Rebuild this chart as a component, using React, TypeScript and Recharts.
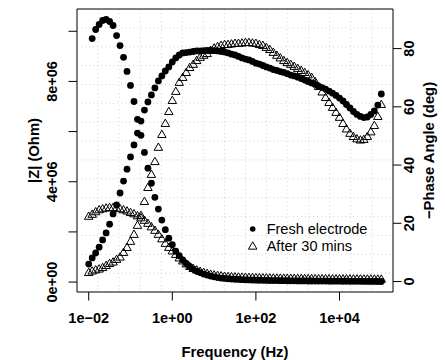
import React from "react";
import { ScatterChart, Scatter, XAxis, YAxis, CartesianGrid, Legend, ReferenceArea } from "recharts";

// frequency sweep: 12 points per decade, 10 mHz .. 100 kHz
const DECADES = [0.01, 0.1, 1, 10, 100, 1000, 10000];
const STEPS = [1, 1.212, 1.468, 1.778, 2.154, 2.61, 3.162, 3.831, 4.642, 5.623, 6.813, 8.254];
const LAST_FREQ = 100000;

// |Z| in MOhm (first low-frequency point of the fresh run is missing)
const FRESH_Z = [
  null, 9.71, 10.07, 10.27, 10.43, 10.47, 10.39, 10.23, 9.83, 9.43,
  8.96, 8.4, 7.84, 7.2, 6.49, 5.85, 5.17, 4.54, 3.94, 3.38,
  2.91, 2.47, 2.09, 1.75, 1.49, 1.23, 1.05, 0.88, 0.74, 0.62,
  0.52, 0.44, 0.38, 0.32, 0.28, 0.24, 0.208, 0.18, 0.16, 0.144,
  0.132, 0.12, 0.112, 0.104, 0.096, 0.088, 0.084, 0.08, 0.076, 0.072,
  0.069, 0.066, 0.063, 0.06, 0.058, 0.056, 0.054, 0.052, 0.05, 0.048,
  0.046, 0.045, 0.044, 0.043, 0.042, 0.041, 0.04, 0.039, 0.038, 0.037,
  0.036, 0.035, 0.034, 0.033, 0.032, 0.031, 0.03, 0.029, 0.028, 0.027,
  0.026, 0.025, 0.024, 0.023, 0.022,
];
const AFTER_Z = [
  2.6, 2.68, 2.78, 2.86, 2.9, 2.93, 2.95, 2.95, 2.93, 2.9,
  2.86, 2.81, 2.75, 2.7, 2.62, 2.54, 2.44, 2.32, 2.18, 2.04,
  1.88, 1.7, 1.52, 1.36, 1.22, 1.08, 0.94, 0.82, 0.7, 0.6,
  0.52, 0.46, 0.408, 0.36, 0.32, 0.288, 0.26, 0.24, 0.224, 0.208,
  0.196, 0.188, 0.181, 0.175, 0.17, 0.165, 0.16, 0.156, 0.152, 0.148,
  0.145, 0.142, 0.139, 0.136, 0.133, 0.131, 0.129, 0.127, 0.125, 0.123,
  0.121, 0.119, 0.117, 0.115, 0.113, 0.112, 0.111, 0.11, 0.109, 0.108,
  0.107, 0.106, 0.105, 0.104, 0.103, 0.102, 0.101, 0.1, 0.099, 0.098,
  0.097, 0.096, 0.095, 0.094, 0.093,
];

// -phase in degrees
const FRESH_PHASE = [
  6.0, 8.1, 9.8, 11.8, 14.3, 16.7, 19.7, 23.2, 26.3, 30.4,
  34.5, 38.6, 42.8, 46.9, 51.0, 55.1, 58.9, 61.7, 64.1, 66.5,
  68.9, 70.6, 72.3, 73.7, 75.4, 76.8, 77.8, 78.5, 78.65, 78.8,
  79.0, 79.2, 79.2, 79.3, 79.4, 79.4, 79.3, 79.2, 79.0, 78.8,
  78.5, 78.1, 77.8, 77.3, 76.8, 76.4, 76.1, 75.6, 75.0, 74.7,
  74.2, 73.7, 73.3, 72.8, 72.5, 72.1, 71.8, 71.4, 70.9, 70.6,
  70.2, 69.7, 69.2, 68.7, 68.2, 67.7, 67.1, 66.6, 66.1, 65.4,
  64.7, 63.9, 63.0, 62.0, 60.8, 59.6, 58.4, 57.4, 56.7, 56.3,
  56.5, 57.4, 58.6, 60.6, 64.4,
];
const AFTER_PHASE = [
  2.9, 3.4, 3.8, 4.1, 4.6, 5.3, 6.0, 6.5, 7.4, 8.2,
  9.8, 11.5, 13.6, 16.0, 19.1, 22.5, 27.3, 32.1, 36.6, 41.0,
  45.9, 50.3, 54.1, 58.2, 62.0, 65.1, 68.2, 69.9, 71.6, 73.3,
  74.4, 75.7, 76.8, 77.5, 78.1, 79.2, 80.0, 80.5, 80.9, 81.2,
  81.2, 81.4, 81.6, 81.6, 81.7, 81.9, 81.9, 81.7, 81.6, 81.2,
  80.9, 80.2, 79.5, 78.5, 77.5, 76.6, 75.7, 75.0, 74.4, 73.7,
  73.0, 72.3, 71.6, 70.8, 69.9, 68.5, 66.8, 64.9, 63.0, 61.3,
  59.6, 57.9, 56.2, 54.1, 52.2, 50.7, 49.6, 48.8, 48.4, 48.6,
  49.6, 51.2, 53.4, 56.5, 60.6,
];

const X_TICKS = [0.01, 1, 100, 10000];
const Z_TICKS = [0, 2e6, 4e6, 6e6, 8e6, 1e7];
const Z_LABELED = [0, 4e6, 8e6];
const PHASE_TICKS = [0, 20, 40, 60, 80];
const PHASE_LIMITS = [0, 90];

const FONT = "'Liberation Sans', Arial, Helvetica, sans-serif";
const GRID_CELLS = 15;

const FREQS = [...DECADES.flatMap((d) => STEPS.map((s) => d * s)), LAST_FREQ];

type Pt = { f: number; v: number };
const toPoints = (vals: (number | null)[], scale = 1): Pt[] =>
  vals.flatMap((v, i) => (v == null ? [] : [{ f: FREQS[i], v: v * scale }]));

const freshZ = toPoints(FRESH_Z, 1e6);
const afterZ = toPoints(AFTER_Z, 1e6);
const freshPh = toPoints(FRESH_PHASE);
const afterPh = toPoints(AFTER_PHASE);

// R style 4% extension of the axis range
const padLin = (lo: number, hi: number): [number, number] => {
  const d = (hi - lo) * 0.04;
  return [lo - d, hi + d];
};
const padLog = (lo: number, hi: number): [number, number] => {
  const k = Math.pow(10, 0.04 * Math.log10(hi / lo));
  return [lo / k, hi * k];
};

const allZ = [...freshZ, ...afterZ].map((p) => p.v);
const xDomain = padLog(Math.min(...FREQS), Math.max(...FREQS));
const zDomain = padLin(Math.min(...allZ), Math.max(...allZ));
const phDomain = padLin(PHASE_LIMITS[0], PHASE_LIMITS[1]);

function fmtSci(v: number) {
  if (v === 0) return "0e+00";
  const e = Math.floor(Math.log10(Math.abs(v)) + 1e-9);
  const m = Math.round(v / Math.pow(10, e));
  return `${m}e${e < 0 ? "\u2212" : "+"}${String(Math.abs(e)).padStart(2, "0")}`;
}

const cellLines = (start: number, size: number) =>
  Array.from({ length: GRID_CELLS - 1 }, (_, k) => start + (size * (k + 1)) / GRID_CELLS);

const textStyle = { fontFamily: FONT, fontSize: 14.5, fill: "#000" };

function BottomTick(props: any) {
  const { x, y, payload } = props;
  return (
    <text x={x} y={y} textAnchor="middle" fontWeight="bold" {...textStyle}>
      {fmtSci(payload.value)}
    </text>
  );
}

function SideTick(props: any) {
  const { x, y, payload, fmt, show } = props;
  if (show && !show.includes(payload.value)) return null;
  return (
    <text x={x} y={y} textAnchor="middle" fontWeight="bold" transform={`rotate(-90, ${x}, ${y})`} {...textStyle}>
      {fmt(payload.value)}
    </text>
  );
}

function XTitle(props: any) {
  const { x, y, width } = props.viewBox;
  return (
    <text x={x + width / 2} y={y + 64.5} textAnchor="middle" fontWeight="bold" {...textStyle} fontSize={14.8}>
      Frequency (Hz)
    </text>
  );
}

function YTitle(props: any) {
  const { x, y, height } = props.viewBox;
  const tx = x + props.dx;
  const ty = y + height / 2;
  return (
    <text x={tx} y={ty} textAnchor="middle" fontWeight="bold" transform={`rotate(-90, ${tx}, ${ty})`} {...textStyle} fontSize={14.8}>
      {props.text}
    </text>
  );
}

const Dot = (p: any) => <circle cx={p.cx} cy={p.cy} r={3.4} fill="#000" />;

const triPath = (cx: number, cy: number, r: number) => {
  const h = r * 0.866;
  return `M${cx},${cy - r}L${cx + h},${cy + r / 2}L${cx - h},${cy + r / 2}Z`;
};
const Tri = (p: any) => <path d={triPath(p.cx, p.cy, 4.9)} fill="none" stroke="#000" strokeWidth={1} />;

function LegendBox() {
  return (
    <svg width={150} height={40} style={{ display: "block", overflow: "visible" }}>
      <circle cx={8.7} cy={11} r={2.8} fill="#000" />
      <text x={22.7} y={16.3} {...textStyle}>
        Fresh electrode
      </text>
      <path d={triPath(8.7, 28.7, 4.9)} fill="none" stroke="#000" strokeWidth={1} />
      <text x={22.7} y={33} {...textStyle}>
        After 30 mins
      </text>
    </svg>
  );
}

export default function App() {
  return (
    <div style={{ position: "absolute", left: 0, top: 0, background: "#fff" }}>
      <ScatterChart width={445} height={360} margin={{ top: 9, right: 0, bottom: 0, left: 0 }}>
        <CartesianGrid
          yAxisId="z"
          stroke="#d3d3d3"
          strokeDasharray="1 3"
          horizontalCoordinatesGenerator={({ offset }: any) => cellLines(offset.top, offset.height)}
          verticalCoordinatesGenerator={({ offset }: any) => cellLines(offset.left, offset.width)}
        />
        <XAxis
          dataKey="f"
          type="number"
          scale="log"
          domain={xDomain}
          allowDataOverflow
          ticks={X_TICKS}
          interval={0}
          height={68}
          axisLine={false}
          tickSize={8.5}
          tickMargin={22.2}
          tickLine={{ stroke: "#000" }}
          tick={<BottomTick />}
          label={<XTitle />}
        />
        <YAxis
          yAxisId="z"
          dataKey="v"
          type="number"
          domain={zDomain}
          allowDataOverflow
          ticks={Z_TICKS}
          interval={0}
          width={77}
          axisLine={false}
          tickSize={8.5}
          tickMargin={11.2}
          tickLine={{ stroke: "#000" }}
          tick={<SideTick fmt={fmtSci} show={Z_LABELED} />}
          label={<YTitle text="|Z| (Ohm)" dx={39} />}
        />
        <YAxis
          yAxisId="ph"
          orientation="right"
          dataKey="v"
          type="number"
          domain={phDomain}
          allowDataOverflow
          ticks={PHASE_TICKS}
          interval={0}
          width={52}
          axisLine={false}
          tickSize={8.5}
          tickMargin={12.5}
          tickLine={{ stroke: "#000" }}
          tick={<SideTick fmt={(v: number) => String(v)} />}
          label={<YTitle text={"\u2212Phase Angle (deg)"} dx={41} />}
        />
        <ReferenceArea
          yAxisId="z"
          x1={xDomain[0]}
          x2={xDomain[1]}
          y1={zDomain[0]}
          y2={zDomain[1]}
          fill="none"
          stroke="#000"
          strokeWidth={1}
          ifOverflow="visible"
        />
        <Scatter data={freshZ} yAxisId="z" shape={Dot} isAnimationActive={false} />
        <Scatter data={afterZ} yAxisId="z" shape={Tri} isAnimationActive={false} />
        <Scatter data={freshPh} yAxisId="ph" shape={Dot} isAnimationActive={false} />
        <Scatter data={afterPh} yAxisId="ph" shape={Tri} isAnimationActive={false} />
        <Legend
          layout="horizontal"
          verticalAlign="middle"
          align="center"
          wrapperStyle={{ left: 244, top: 218, width: 150, height: 40 }}
          content={() => <LegendBox />}
        />
      </ScatterChart>
    </div>
  );
}
